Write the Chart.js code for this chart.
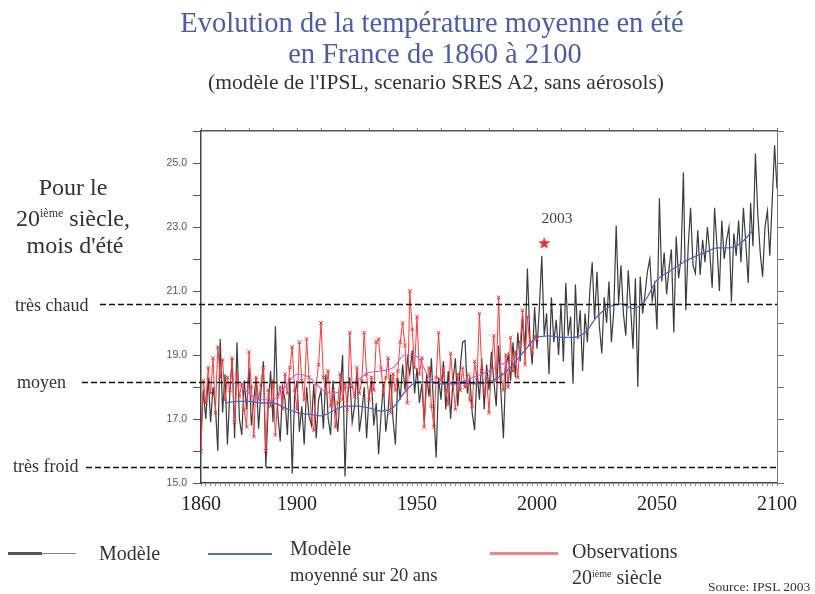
<!DOCTYPE html>
<html>
<head>
<meta charset="utf-8">
<script src="https://cdn.jsdelivr.net/npm/chart.js@4/dist/chart.umd.min.js"></script>
<style>
  body { margin: 0; background: #fff; }
  #wrap { position: relative; width: 815px; height: 594px; overflow: hidden; font-family: 'Liberation Serif', 'DejaVu Serif', serif; color: #333; }
  #chart { position: absolute; left: 0; top: 0; }
  .t { position: absolute; white-space: nowrap; line-height: 1; }
  .c { transform: translate(-50%, -50%); }
  .l { transform: translateY(-50%); }
  .title { font-size: 28.5px; color: #4b5cab; }
  sup { font-size: 0.5em; vertical-align: 0.75em; }
  .leg { position: absolute; }
</style>
</head>
<body>
<div id="wrap">
  <canvas id="chart" width="815" height="594"></canvas>

  <div class="t c title" style="left:432px; top:23px;">Evolution de la température moyenne en été</div>
  <div class="t c title" style="left:435px; top:54px;">en France de 1860 à 2100</div>
  <div class="t c" style="left:436px; top:83px; font-size:21.5px;">(modèle de l'IPSL, scenario SRES A2, sans aérosols)</div>

  <div class="t c" style="left:73px; top:187px; font-size:24px;">Pour le</div>
  <div class="t c" style="left:73px; top:218px; font-size:24px;">20<sup>ième</sup> siècle,</div>
  <div class="t c" style="left:75px; top:245px; font-size:24px;">mois d'été</div>

  <div class="t l" style="left:15px; top:305px; font-size:18px;">très chaud</div>
  <div class="t l" style="left:17px; top:382px; font-size:18px;">moyen</div>
  <div class="t l" style="left:13px; top:466px; font-size:18px;">très froid</div>

  <div class="t c" style="left:557px; top:218px; font-size:15.5px; color:#444;">2003</div>

  <div class="leg" style="left:8px; top:552px; width:34px; height:3px; background:#555;"></div>
  <div class="leg" style="left:42px; top:553px; width:34px; height:1px; background:#888;"></div>
  <div class="t l" style="left:99px; top:553px; font-size:20px;">Modèle</div>

  <div class="leg" style="left:208px; top:553px; width:64px; height:1.5px; background:#5070c0;"></div>
  <div class="t l" style="left:290px; top:548px; font-size:20px;">Modèle</div>
  <div class="t l" style="left:290px; top:575px; font-size:18.5px;">moyenné sur 20 ans</div>

  <div class="leg" style="left:490px; top:552px; width:68px; height:3px; background:#f08585;"></div>
  <div class="t l" style="left:572px; top:551px; font-size:20px;">Observations</div>
  <div class="t l" style="left:572px; top:577px; font-size:20px;">20<sup>ième</sup> siècle</div>

  <div class="t l" style="left:708px; top:587px; font-size:13.5px;">Source: IPSL 2003</div>
</div>

<script>
// modèle IPSL, température moyenne d'été, une valeur par an (1860-2100)
const modelStart = 1860;
const modelTemps = [
  16.6, 17.9, 17.0, 18.3, 16.9, 18.0, 17.4, 16.0, 19.5, 17.2,
  18.4, 16.2, 17.8, 18.9, 16.4, 19.4, 17.0, 16.5, 18.2, 17.3,
  18.6, 16.8, 17.6, 18.3, 16.7, 17.9, 18.8, 15.5, 17.4, 18.5,
  16.9, 19.9, 17.2, 16.3, 18.0, 17.6, 16.5, 18.3, 15.3, 17.7,
  18.2, 16.6, 17.4, 16.2, 18.0, 17.1, 16.8, 18.1, 16.4, 17.6,
  17.9, 16.7, 18.4, 17.0, 16.5, 18.2, 17.3, 16.6, 17.8, 19.0,
  15.2, 17.6, 18.3, 16.9, 17.4, 18.5, 16.6, 17.2, 18.0, 16.4,
  17.7, 18.2, 16.8, 17.5, 15.9, 17.1, 18.1, 16.6, 17.3, 18.4,
  17.0, 16.2, 18.3, 17.6, 18.7, 17.9, 18.9, 18.4, 19.15, 17.8,
  18.6, 17.5, 18.1, 16.9, 18.4, 17.7, 18.9, 17.2, 15.8, 18.3,
  17.6, 18.8, 17.3, 18.5, 17.0, 18.2, 18.9, 17.4, 18.6, 19.4,
  19.45, 17.8, 18.3, 17.2, 16.65, 18.5, 17.6, 18.9, 17.3, 18.7,
  17.9, 19.1, 18.2, 17.4, 19.3, 17.8, 16.4, 18.6, 19.0, 18.2,
  19.4, 18.3, 19.7, 18.8, 20.2, 19.1, 21.7, 19.6, 18.7, 20.5,
  19.2, 20.5, 22.1, 19.6, 20.3, 18.4, 20.8, 19.4, 20.1, 19.0,
  20.6, 18.8, 21.25, 19.6, 20.2, 18.1, 21.2, 19.5, 20.4, 18.5,
  20.3, 19.4, 21.0, 21.9, 20.1, 21.6, 19.9, 19.05, 20.8, 20.0,
  21.3, 19.4, 20.4, 23.05, 20.6, 21.8, 20.3, 19.6, 21.65, 20.5,
  19.2, 21.4, 18.0, 21.45, 20.3, 20.9, 21.6, 22.0, 20.7, 21.2,
  19.8, 23.9, 21.3, 22.2, 20.9, 21.7, 22.3, 19.7, 22.7, 21.4,
  22.0, 24.7, 20.4, 22.4, 23.6, 21.8, 21.55, 22.9, 21.5, 22.6,
  21.9, 23.0, 22.2, 21.1, 23.6, 22.4, 21.0, 23.2, 22.0, 22.6,
  23.0, 20.65, 22.8, 22.1, 23.2, 21.9, 23.6, 22.5, 21.25, 23.75,
  22.4, 25.3, 23.4, 22.2, 21.45, 23.0, 23.5, 22.1, 23.8, 25.55,
  24.2
];

// observations 20ème siècle (1860-2000)
const obsStart = 1860;
const obsTemps = [
  16.0, 18.2, 17.5, 18.6, 17.8, 18.9, 17.2, 19.25, 18.3, 18.85,
  17.6, 18.3, 17.9, 18.9, 16.9, 18.4, 17.7, 18.1, 17.3, 16.75,
  19.1, 18.0, 16.45, 18.3, 17.6, 18.1, 18.6, 16.0, 17.9, 17.4,
  18.2, 16.5, 17.7, 18.0, 17.3, 18.4, 17.8, 18.6, 19.25, 17.9,
  17.3, 19.4, 18.2, 17.6, 19.5, 18.3, 17.0, 16.65, 18.1, 18.7,
  20.0, 18.3, 17.8, 18.5, 17.4, 17.9, 16.75, 17.5, 18.4, 17.6,
  18.1, 17.3, 19.7, 18.0, 17.7, 18.6, 17.8, 18.2, 19.7, 18.4,
  17.6, 18.3, 17.9, 19.4, 19.5, 18.6, 17.8, 18.3, 18.9, 17.2,
  18.4, 17.9, 18.5, 19.4, 20.0, 19.3, 17.5, 21.0, 19.8, 18.6,
  20.2, 18.4, 18.9, 16.75, 18.1, 18.6, 17.4, 16.75, 18.3, 19.7,
  18.2, 18.6, 17.9, 17.45, 19.05, 18.1, 17.3, 18.4, 17.9, 18.6,
  18.0, 18.4, 17.6, 17.4, 18.8, 18.2, 20.3, 18.5, 17.8, 18.3,
  17.2, 18.6, 19.6, 18.2, 20.8, 18.4, 17.9, 19.0, 18.0, 19.55,
  18.5, 19.1, 18.3, 19.4, 20.4, 18.7, 20.2, 19.3, 19.05, 19.6,
  19.5
];

// modèle moyenné sur 20 ans
const modelMeanYears = [
  1870, 1875, 1880, 1885, 1890, 1895, 1900, 1905, 1910, 1915,
  1920, 1925, 1930, 1935, 1940, 1945, 1950, 1955, 1960, 1965,
  1970, 1975, 1980, 1985, 1990, 1995, 2000, 2005, 2010, 2015,
  2020, 2025, 2030, 2035, 2040, 2045, 2050, 2055, 2060, 2065,
  2070, 2075, 2080, 2085, 2090
];
const modelMeanTemps = [
  17.5, 17.55, 17.55, 17.5, 17.5, 17.35, 17.2, 17.15, 17.1, 17.25,
  17.4, 17.4, 17.35, 17.25, 17.35, 17.85, 18.15, 18.15, 18.1, 18.1,
  18.12, 18.1, 18.15, 18.35, 18.7, 19.15, 19.55, 19.6, 19.55, 19.55,
  19.7, 20.2, 20.5, 20.6, 20.45, 20.7, 21.35, 21.6, 21.85, 22.05,
  22.2, 22.35, 22.35, 22.5, 22.9
];

// observations moyennées sur 20 ans
const obsMeanYears = [
  1870, 1875, 1880, 1885, 1890, 1895, 1900, 1905, 1910, 1915,
  1920, 1925, 1930, 1935, 1940, 1945, 1950, 1955, 1960, 1965,
  1970, 1975, 1980, 1985, 1990
];
const obsMeanTemps = [
  18.15, 18.1, 17.8, 17.6, 17.6, 18.0, 18.4, 18.3, 17.95, 17.8,
  17.95, 18.2, 18.45, 18.5, 18.6, 19.0, 18.95, 18.3, 18.1, 18.15,
  18.2, 18.35, 18.5, 18.7, 18.85
];

// été 2003
const heatwaveYear = [2003];
const heatwaveTemp = [22.5];

// seuils : très chaud, moyen, très froid
const refLevels = [20.6, 18.15, 15.5];
const refEndYears = [2100, 2012, 2100];

const xMajorTicks = [1860, 1900, 1950, 2000, 2050, 2100];
const yTickMin = 15;
const yTickMax = 26;

function toPoints(startYear, values) {
  return values.map((v, i) => ({ x: startYear + i, y: v }));
}
function pairPoints(years, values) {
  return years.map((yr, i) => ({ x: yr, y: values[i] }));
}

const minorYears = [];
for (let yr = 1860; yr <= 2100; yr += 2) minorYears.push(yr);

// étoile rouge pour 2003
const starImg = document.createElement('canvas');
starImg.width = 14;
starImg.height = 14;
(function () {
  const c = starImg.getContext('2d');
  c.beginPath();
  for (let i = 0; i < 10; i++) {
    const r = i % 2 === 0 ? 6.5 : 2.7;
    const a = -Math.PI / 2 + i * Math.PI / 5;
    const px = 7 + r * Math.cos(a);
    const py = 7.5 + r * Math.sin(a);
    if (i === 0) c.moveTo(px, py); else c.lineTo(px, py);
  }
  c.closePath();
  c.fillStyle = '#e8303a';
  c.fill();
})();

const refLinesPlugin = {
  id: 'refLines',
  afterDatasetsDraw(chart, args, opts) {
    const ctx = chart.ctx;
    const xs = chart.scales.x;
    const ys = chart.scales.y;
    ctx.save();
    ctx.strokeStyle = '#111';
    ctx.lineWidth = 1.3;
    ctx.setLineDash([6, 3]);
    refLevels.forEach((lvl, i) => {
      const py = Math.round(ys.getPixelForValue(lvl)) + 0.5;
      ctx.beginPath();
      ctx.moveTo(opts.starts[i], py);
      ctx.lineTo(xs.getPixelForValue(refEndYears[i]), py);
      ctx.stroke();
    });
    ctx.restore();
  }
};

const ctx = document.getElementById('chart').getContext('2d');
new Chart(ctx, {
  type: 'line',
  data: {
    datasets: [
      {
        label: '2003',
        data: pairPoints(heatwaveYear, heatwaveTemp),
        showLine: false,
        pointStyle: starImg,
        pointRadius: 7,
        xAxisID: 'x',
        yAxisID: 'y'
      },
      {
        label: 'Modèle moyenné sur 20 ans',
        data: pairPoints(modelMeanYears, modelMeanTemps),
        borderColor: '#4a68c8',
        borderWidth: 1.3,
        pointRadius: 0,
        cubicInterpolationMode: 'monotone',
        xAxisID: 'x',
        yAxisID: 'y'
      },
      {
        label: 'Observations moyennées',
        data: pairPoints(obsMeanYears, obsMeanTemps),
        borderColor: '#c060d0',
        borderWidth: 1.1,
        pointRadius: 0,
        cubicInterpolationMode: 'monotone',
        xAxisID: 'x',
        yAxisID: 'y'
      },
      {
        label: 'Observations 20ème siècle',
        data: toPoints(obsStart, obsTemps),
        borderColor: '#ff3a3a',
        borderWidth: 1,
        pointStyle: 'crossRot',
        pointRadius: 2.5,
        pointBorderColor: '#ff2a2a',
        pointBorderWidth: 1,
        tension: 0,
        xAxisID: 'x',
        yAxisID: 'y'
      },
      {
        label: 'Modèle',
        data: toPoints(modelStart, modelTemps),
        borderColor: '#3c3c3c',
        borderWidth: 1.2,
        pointRadius: 0,
        tension: 0,
        xAxisID: 'x',
        yAxisID: 'y'
      }
    ]
  },
  options: {
    responsive: false,
    animation: false,
    devicePixelRatio: 1,
    layout: { padding: { left: 161, right: 28, top: 127, bottom: 81 } },
    plugins: {
      legend: { display: false },
      tooltip: { enabled: false },
      refLines: { starts: [100, 82, 86] }
    },
    scales: {
      x: {
        type: 'linear',
        position: 'bottom',
        min: 1860,
        max: 2100,
        afterBuildTicks: (scale) => {
          scale.ticks = minorYears.map((v) => ({ value: v }));
        },
        afterFit: (scale) => { scale.height = 30; },
        ticks: {
          autoSkip: false,
          maxRotation: 0,
          padding: 7,
          color: '#222',
          font: { family: "'Liberation Serif', serif", size: 20 },
          callback: (v) => (xMajorTicks.includes(v) ? String(v) : '')
        },
        grid: { drawOnChartArea: false, tickLength: 3, color: '#888' },
        border: { color: '#444', width: 1.5 }
      },
      xTop: {
        type: 'linear',
        position: 'top',
        min: 1860,
        max: 2100,
        afterBuildTicks: (scale) => {
          scale.ticks = minorYears.filter((v) => v % 10 === 0).map((v) => ({ value: v }));
        },
        afterFit: (scale) => { scale.height = 4; },
        ticks: { display: false },
        grid: { drawOnChartArea: false, tickLength: 3, color: '#777' },
        border: { color: '#555', width: 1.5, dash: [5, 2] }
      },
      y: {
        type: 'linear',
        position: 'left',
        min: yTickMin,
        max: yTickMax,
        afterFit: (scale) => { scale.width = 40; },
        ticks: {
          stepSize: 1,
          padding: 6,
          color: '#555',
          font: { family: "'Liberation Sans', sans-serif", size: 10.5 },
          callback: (v) => (v % 2 === 1 ? v.toFixed(1) : '')
        },
        grid: { drawOnChartArea: false, tickLength: 8, color: '#555' },
        border: { color: '#444', width: 1.5 }
      },
      y2: {
        type: 'linear',
        position: 'right',
        min: yTickMin,
        max: yTickMax,
        afterFit: (scale) => { scale.width = 10; },
        ticks: { stepSize: 1, display: false },
        grid: { drawOnChartArea: false, tickLength: 7, color: '#777' },
        border: { color: '#777', width: 1 }
      }
    }
  },
  plugins: [refLinesPlugin]
});
</script>
</body>
</html>
